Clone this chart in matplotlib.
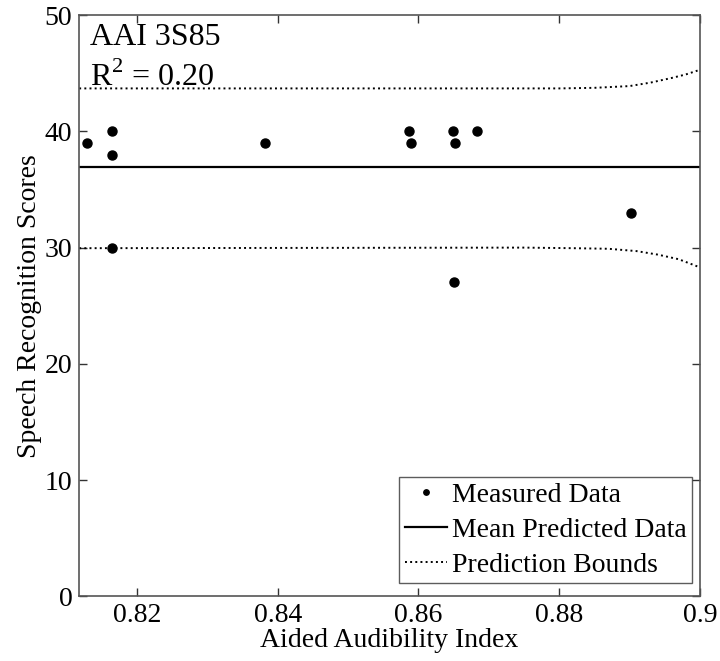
import numpy as np
import matplotlib
matplotlib.use("Agg")
import matplotlib.pyplot as plt

plt.rcParams["font.family"] = ["Liberation Serif", "DejaVu Serif"]
plt.rcParams["mathtext.fontset"] = "custom"
plt.rcParams["mathtext.rm"] = "Liberation Serif"

# measured data
aai = [0.8129, 0.8165, 0.8165, 0.8165, 0.8382, 0.8587, 0.8590,
       0.8649, 0.8652, 0.8651, 0.8684, 0.8902]
scores = [39, 40, 38, 30, 39, 40, 39, 40, 39, 27, 40, 33]

# mean prediction
mean_x = [0.8118, 0.9]
mean_y = [36.9, 36.9]

# prediction bounds
upper_x = [0.8118, 0.880, 0.885, 0.890, 0.893, 0.896, 0.898, 0.900]
upper_y = [43.7, 43.7, 43.75, 43.9, 44.2, 44.6, 44.9, 45.3]
lower_x = [0.8118, 0.875, 0.882, 0.887, 0.891, 0.894, 0.897, 0.900]
lower_y = [29.95, 30.0, 29.95, 29.9, 29.7, 29.4, 29.0, 28.3]

fig = plt.figure(figsize=(7.2, 6.61), dpi=100)
ax = fig.add_axes([0.110, 0.098, 0.862, 0.879])

ax.plot(aai, scores, "o", color="black", markersize=6.5, label="Measured Data")
ax.plot(mean_x, mean_y, "-", color="black", lw=1.6, label="Mean Predicted Data")
ax.plot(upper_x, upper_y, ":", color="black", lw=1.4, label="Prediction Bounds")
ax.plot(lower_x, lower_y, ":", color="black", lw=1.4)

ax.set_xlim(0.8118, 0.9)
ax.set_ylim(0, 50)
ax.set_xticks([0.82, 0.84, 0.86, 0.88, 0.9])
ax.set_xticklabels(["0.82", "0.84", "0.86", "0.88", "0.9"])
ax.set_yticks([0, 10, 20, 30, 40, 50])

for s in ax.spines.values():
    s.set_color("#555555")
    s.set_linewidth(1.2)
ax.tick_params(direction="in", length=6, width=1, color="#333333",
               top=True, right=True, labelsize=20, pad=5)

ax.set_xlabel("Aided Audibility Index", fontsize=20, labelpad=0)
ax.set_ylabel("Speech Recognition Scores", fontsize=20, labelpad=2)

ax.text(0.8134, 47.4, "AAI 3S85", fontsize=23, va="baseline", ha="left")
ax.text(0.8134, 43.9, r"R$^2$ = 0.20", fontsize=23, va="baseline", ha="left")

leg = ax.legend(loc="lower right", fontsize=20, frameon=True, fancybox=False,
                edgecolor="#333333", borderpad=0.2, handlelength=1.5,
                handletextpad=0.2, labelspacing=0.35, markerscale=0.6,
                borderaxespad=0, bbox_to_anchor=(0.988, 0.022))
leg.get_frame().set_linewidth(1.0)

fig.savefig("out.png", dpi=100)
